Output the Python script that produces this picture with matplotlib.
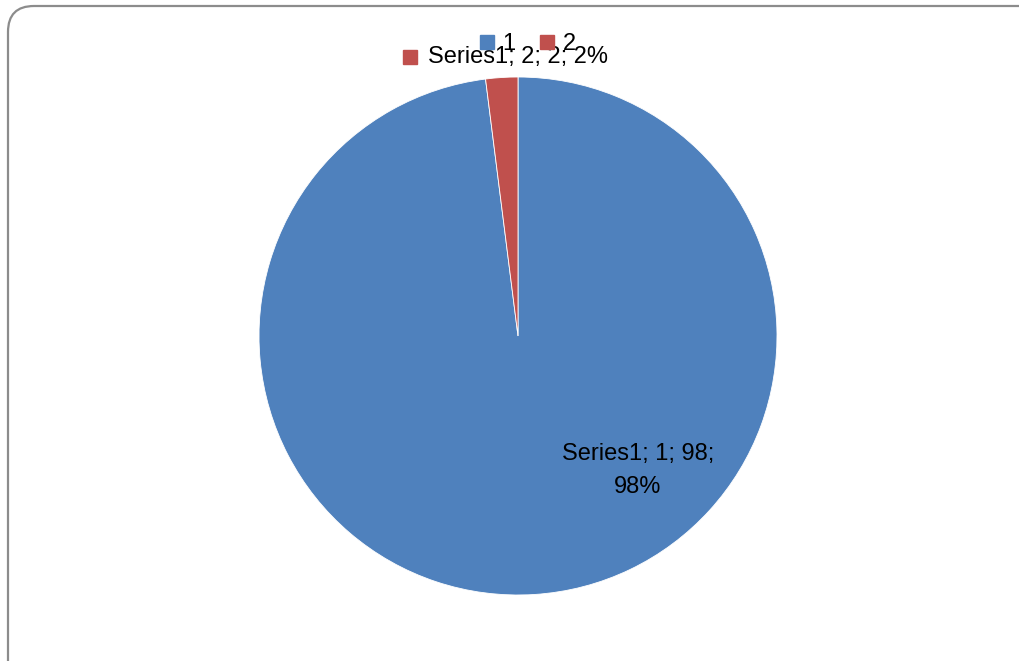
import numpy as np
import matplotlib
matplotlib.use("Agg")
import matplotlib.pyplot as plt
from matplotlib.patches import FancyBboxPatch
from matplotlib.lines import Line2D

# series data
categories = ["1", "2"]
values = [98, 2]
series_name = "Series1"
colors = ["#4f81bd", "#c0504d"]

W, H = 1019, 661
plt.rcParams['font.family'] = ['Liberation Sans', 'DejaVu Sans']

fig = plt.figure(figsize=(W / 100, H / 100), dpi=100)

# chart area border with rounded corners (pixel coords, origin bottom-left)
border = FancyBboxPatch((8, -40), W + 40, H - 6 + 40,
                        boxstyle="round,pad=0,rounding_size=26",
                        transform=None, facecolor="none",
                        edgecolor="#8c8c8c", linewidth=1.6, zorder=-1)
fig.patches.append(border)

cx, cy, r = 518, 336, 259
ax = fig.add_axes([(cx - r) / W, (H - cy - r) / H, 2 * r / W, 2 * r / H])
wedges, _ = ax.pie(values, colors=colors, startangle=90, counterclock=False,
                   radius=1, wedgeprops=dict(linewidth=0.6, edgecolor="white"))
ax.set_xlim(-1, 1)
ax.set_ylim(-1, 1)
ax.set_aspect("equal")
ax.axis("off")

total = sum(values)
pct = [round(v / total * 100) for v in values]

# inside label for the large slice
ax.text(0.463, -0.52, f"{series_name}; {categories[0]}; {values[0]};\n{pct[0]}%",
        ha="center", va="center", fontsize=17, linespacing=1.65, color="black")

# outside label for the small slice, with legend key
ax.text(0.0, 1.077, f"{series_name}; {categories[1]}; {values[1]}; {pct[1]}%",
        ha="center", va="center", fontsize=17, color="black")
ax.plot([-0.417], [1.077], marker="s", markersize=10.5, color=colors[1],
        clip_on=False, linestyle="none")

handles = [Line2D([], [], marker="s", markersize=10.5, linestyle="none",
                  color=c) for c in colors]
fig.legend(handles, categories, loc="center", ncol=2, frameon=False,
           bbox_to_anchor=(527 / W, 1 - 44 / H), fontsize=17,
           handlelength=0.7, handletextpad=0.3, columnspacing=1.0,
           borderpad=0)

fig.savefig("out.png", dpi=100)
